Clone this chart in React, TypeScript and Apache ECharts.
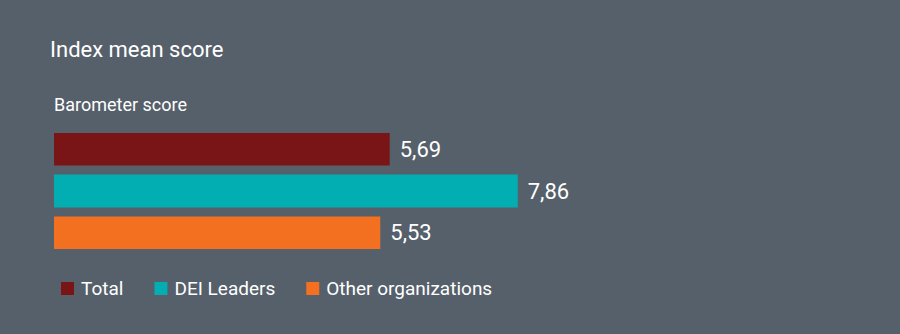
import React, { useEffect, useRef } from "react";
import * as echarts from "echarts";

const categories = ["Barometer score"];
const seriesNames = ["Total", "DEI Leaders", "Other organizations"];
const seriesValues = [5.69, 7.86, 5.53];
const seriesColors = ["#7a1517", "#02aeb2", "#f37021"];

export default function App() {
  const ref = useRef<HTMLDivElement>(null);
  useEffect(() => {
    document.body.style.margin = "0";
    const chart = echarts.init(ref.current!, null, { renderer: "svg" });
    const font = "Roboto, 'Noto Sans', sans-serif";
    chart.setOption({
      animation: false,
      backgroundColor: "#56606b",
      textStyle: { fontFamily: font },
      title: [
        {
          text: "Index mean score",
          left: 45,
          top: 33,
          textStyle: { color: "#ffffff", fontSize: 22, fontWeight: "normal", fontFamily: font },
        },
        {
          text: categories[0],
          left: 49,
          top: 90,
          textStyle: { color: "#ffffff", fontSize: 18, fontWeight: "normal", fontFamily: font },
        },
      ],
      legend: {
        left: 56,
        top: 274,
        icon: "rect",
        itemWidth: 13,
        itemHeight: 13,
        itemGap: 31,
        textStyle: { color: "#ffffff", fontSize: 19, padding: [0, 0, 0, 2], fontFamily: font },
        data: seriesNames,
      },
      grid: { left: 54, top: 133, width: 590, height: 116, containLabel: false },
      xAxis: { type: "value", min: 0, max: 10, show: false },
      yAxis: { type: "category", data: categories, inverse: true, show: false },
      series: seriesNames.map((name, i) => ({
        name,
        type: "bar",
        data: [seriesValues[i]],
        barWidth: 33,
        barGap: "27%",
        itemStyle: { color: seriesColors[i] },
        label: {
          show: true,
          position: "right",
          distance: 10,
          color: "#ffffff",
          fontSize: 22,
          fontFamily: font,
          formatter: (p: any) => p.value.toFixed(2).replace(".", ","),
        },
      })),
    });
    return () => chart.dispose();
  }, []);
  return <div ref={ref} style={{ width: 900, height: 334 }} />;
}
